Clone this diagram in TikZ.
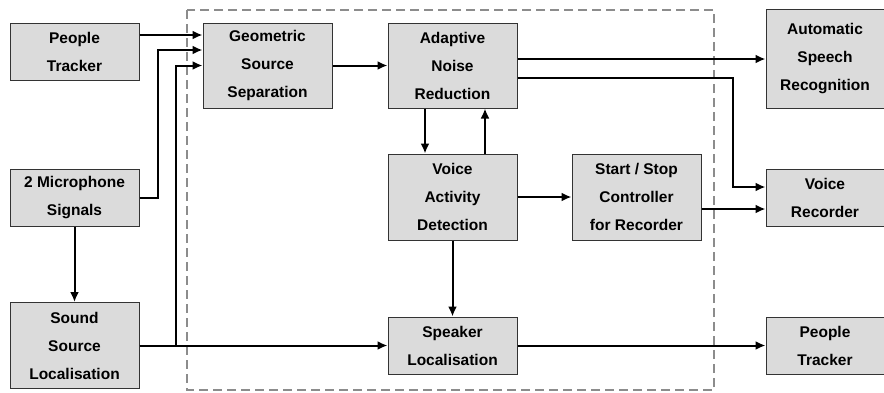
\documentclass[tikz,border=0pt]{standalone}
\usepackage{fontspec}
\setmainfont{Liberation Sans}
\usepackage{tikz}
\usetikzlibrary{arrows.meta,positioning}

\begin{document}
\begin{tikzpicture}[x=1pt,y=-1pt,
  blk/.style={rectangle,draw=black!80,line width=1pt,fill=black!14,
    align=center,inner sep=0pt,minimum width=129pt,
    font=\fontsize{15.5}{28}\selectfont\bfseries},
  outblk/.style={blk,minimum width=118pt},
  conn/.style={line width=2pt,-{Latex[length=10pt,width=9pt]}}]
\useasboundingbox (0,0) rectangle (884,392);
% processing part
\draw[black!45,line width=2.8pt,dash pattern=on 9pt off 5pt] (187,10) rectangle (714,390);
% inputs
\node[blk,minimum height=57pt] (pt) at (74.5,51.5) {People\\Tracker};
\node[blk,minimum height=57pt] (mic) at (74.5,197.5) {2 Microphone\\Signals};
\node[blk,minimum height=86pt] (ssl) at (74.5,345.5) {Sound\\Source\\Localisation};
% inner blocks
\node[blk,minimum height=85pt] (gss) at (267.5,65.5) {Geometric\\Source\\Separation};
\node[blk,minimum height=85pt] (anr) at (452.5,65.5) {Adaptive\\Noise\\Reduction};
\node[blk,minimum height=86pt] (vad) at (452.5,197) {Voice\\Activity\\Detection};
\node[blk,minimum height=86pt] (ssc) at (636.5,197) {Start / Stop\\Controller\\for Recorder};
\node[blk,minimum height=57pt] (spk) at (452.5,345.5) {Speaker\\Localisation};
% outputs
\node[outblk,minimum height=99pt] (asr) at (825,58.5) {Automatic\\Speech\\Recognition};
\node[outblk,minimum height=57pt] (vr) at (825,197.5) {Voice\\Recorder};
\node[outblk,minimum height=57pt] (pt2) at (825,345.5) {People\\Tracker};
% connections
\draw[conn] ([yshift=16.5pt]pt.east) -- ([yshift=30.5pt]gss.west);
\draw[conn] (mic.east) -- ++(18,0) |- ([yshift=15.5pt]gss.west);
\draw[conn] (ssl.east) -- ++(36,0) |- (gss.west);
\draw[conn] (ssl.east) -- (spk.west);
\draw[conn] (mic.south) -- (ssl.north);
\draw[conn] (gss.east) -- (anr.west);
\draw[conn] ([yshift=6.5pt]anr.east) -- ([yshift=6.5pt]anr.east -| asr.west);
\draw[conn] ([yshift=-12.5pt]anr.east) -| ([xshift=-33pt,yshift=10.5pt]vr.west) -- ([yshift=10.5pt]vr.west);
\draw[conn] ([xshift=-27.5pt]anr.south) -- ([xshift=-27.5pt]vad.north);
\draw[conn] ([xshift=32.5pt]vad.north) -- ([xshift=32.5pt]anr.south);
\draw[conn] (vad.east) -- (ssc.west);
\draw[conn] ([yshift=-12pt]ssc.east) -- ([yshift=-12pt]ssc.east -| vr.west);
\draw[conn] (vad.south) -- (spk.north);
\draw[conn] (spk.east) -- (pt2.west);
\end{tikzpicture}
\end{document}
